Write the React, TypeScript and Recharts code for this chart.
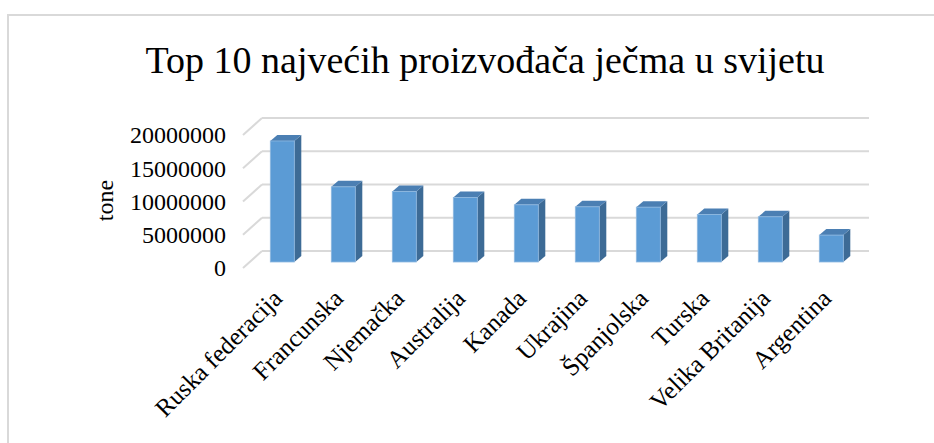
import React from "react";
import { BarChart, Bar, XAxis, YAxis, CartesianGrid } from "recharts";

const countries = [
  "Ruska federacija",
  "Francunska",
  "Njemačka",
  "Australija",
  "Kanada",
  "Ukrajina",
  "Španjolska",
  "Turska",
  "Velika Britanija",
  "Argentina",
];
const production = [
  18200000, 11300000, 10600000, 9700000, 8600000, 8300000, 8250000, 7150000,
  6800000, 4050000,
];
const yTicks = [0, 5000000, 10000000, 15000000, 20000000];

const data = countries.map((name, i) => ({ name, value: production[i] }));

const FONT = '"Liberation Serif", "Times New Roman", serif';
const DX = 7;
const DY = 6;

// 3d column: front face + right side + top
function Column3D(props: any) {
  const { x, y, width, height } = props;
  if (!height) return null;
  const side = `M${x + width},${y} L${x + width + DX},${y - DY} L${x + width + DX},${y + height - DY} L${x + width},${y + height} Z`;
  const top = `M${x},${y} L${x + DX},${y - DY} L${x + width + DX},${y - DY} L${x + width},${y} Z`;
  return (
    <g>
      <path d={side} fill="#3D6B96" />
      <path d={top} fill="#4B7FB3" />
      <rect x={x} y={y} width={width} height={height} fill="#5B9BD5" stroke="#8FB8E0" strokeWidth={0.8} />
    </g>
  );
}

// floor / back wall grid line
function GridLine(props: any) {
  const { x1, x2, y1 } = props;
  return (
    <g key={props.key}>
      <line x1={x1 - 9} y1={y1 + 6} x2={x1 + 10} y2={y1 - 11} stroke="#D9D9D9" strokeWidth={2} />
      <line x1={x1 + 10} y1={y1 - 11} x2={x2 + 7} y2={y1 - 11} stroke="#D9D9D9" strokeWidth={2} />
    </g>
  );
}

function YTick({ x, y, payload }: any) {
  return (
    <text x={x} y={y + 6} dy="0.35em" textAnchor="end" fontFamily={FONT} fontSize={24} fill="#000">
      {payload.value}
    </text>
  );
}

function XTick({ x, y, payload }: any) {
  const ax = x + 1;
  const ay = y + 38;
  return (
    <text
      x={ax}
      y={ay}
      textAnchor="end"
      transform={`rotate(-45 ${ax} ${ay})`}
      fontFamily={FONT}
      fontSize={25}
      fill="#000"
    >
      {payload.value}
    </text>
  );
}

export default function App() {
  return (
    <div style={{ position: "absolute", left: 0, top: 0, width: 934, height: 443, background: "#fff", overflow: "hidden" }}>
      <div
        style={{
          position: "absolute",
          left: 7,
          top: 14,
          width: 940,
          height: 440,
          borderTop: "2px solid #D9D9D9",
          borderLeft: "2px solid #D9D9D9",
        }}
      />
      <div
        style={{
          position: "absolute",
          left: 0,
          top: 40,
          width: 970,
          textAlign: "center",
          fontFamily: FONT,
          fontSize: 38,
          lineHeight: "40px",
        }}
      >
        Top 10 najvećih proizvođača ječma u svijetu
      </div>
      <div style={{ position: "absolute", left: 0, top: 0 }}>
        <BarChart
          width={934}
          height={443}
          data={data}
          margin={{ top: 129, right: 72, bottom: 0, left: 0 }}
          barCategoryGap="30%"
        >
          <CartesianGrid vertical={false} horizontal={GridLine as any} />
          <XAxis dataKey="name" axisLine={false} tickLine={false} tickSize={0} tickMargin={0} interval={0} tick={<XTick />} height={181} />
          <YAxis
            width={252}
            domain={[0, 20000000]}
            ticks={yTicks}
            axisLine={false}
            tickLine={false}
            tickSize={0}
            tickMargin={26}
            tick={<YTick />}
            label={{
              content: ({ viewBox }: any) => {
                const lx = viewBox.x + 105;
                const ly = viewBox.y + viewBox.height / 2 + 5;
                return (
                  <text x={lx} y={ly} dy="0.35em" textAnchor="middle" transform={`rotate(-90 ${lx} ${ly})`} fontFamily={FONT} fontSize={24}>
                    tone
                  </text>
                );
              },
            }}
          />
          <Bar dataKey="value" shape={<Column3D />} isAnimationActive={false} />
        </BarChart>
      </div>
    </div>
  );
}
